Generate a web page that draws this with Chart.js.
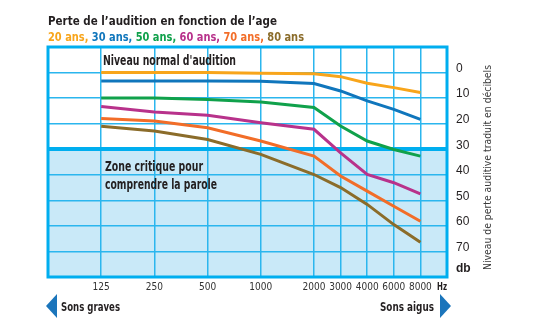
<!DOCTYPE html>
<html lang="fr">
<head>
<meta charset="utf-8">
<title>Perte de l'audition en fonction de l'age</title>
<script src="https://cdn.jsdelivr.net/npm/chart.js@4.4.1/dist/chart.umd.min.js"></script>
<style>
  html, body { margin: 0; padding: 0; background: #fff; }
  #wrap { width: 540px; height: 323px; }
</style>
</head>
<body>
<div id="wrap"><canvas id="audition" width="540" height="323"></canvas></div>
<script>
// fréquences mesurées (Hz)
const frequencies = ['125', '250', '500', '1000', '2000', '3000', '4000', '6000', '8000'];
// graduations de l'axe : demi-pas entre les octaves, vides là où rien n'est écrit
const axisSlots = ['', '', '125', '', '250', '', '500', '', '1000', '', '2000', '3000', '4000', '6000', '8000', ''];
const dbTicks = [0, 10, 20, 30, 40, 50, 60, 70];

const ages = ['20 ans', '30 ans', '50 ans', '60 ans', '70 ans', '80 ans'];
const loss20 = [0, 0, 0, 0.3, 0.5, 1.6, 4.2, 5.9, 7.8];
const loss30 = [3.3, 3.3, 3.3, 3.4, 4.3, 7.2, 11.1, 14.4, 18.3];
const loss50 = [10, 10, 10.5, 11.5, 13.7, 20.9, 26.8, 30.1, 32.7];
const loss60 = [13.3, 15.4, 16.7, 19.6, 22.2, 31.4, 39.9, 43.1, 47.5];
const loss70 = [18, 19, 21.6, 26.8, 32.7, 40.5, 46.4, 52.3, 58.2];
const loss80 = [21, 22.9, 26.2, 32, 39.9, 45, 51.6, 59.5, 66.4];

const colors = ['#f8a51b', '#1076bc', '#10a14b', '#b8328b', '#f26d28', '#8b6c2a'];
const CYAN = '#00aeef';
const GRID = '#2bb6ee';
const ZONE = '#c9e9f8';
const INK = '#231f20';
const NARROW = '"Liberation Sans Narrow", "DejaVu Sans Condensed", "Liberation Sans", sans-serif';

const series = [loss20, loss30, loss50, loss60, loss70, loss80];

// texte compressé horizontalement pour tenir dans une largeur donnée
function fitText(ctx, text, x, y, font, color, width) {
  ctx.save();
  ctx.font = font;
  ctx.fillStyle = color;
  ctx.textBaseline = 'alphabetic';
  ctx.textAlign = 'left';
  const k = width ? width / ctx.measureText(text).width : 1;
  ctx.translate(x, y);
  ctx.scale(k, 1);
  ctx.fillText(text, 0, 0);
  ctx.restore();
}

const zonePlugin = {
  id: 'zone',
  beforeDraw(chart) {
    const { ctx, chartArea: a, scales: { y } } = chart;
    const top = y.getPixelForValue(30);
    ctx.save();
    ctx.fillStyle = ZONE;
    ctx.fillRect(a.left, top, a.right - a.left, a.bottom - top);
    ctx.restore();
  },
  beforeDatasetsDraw(chart) {
    const { ctx, chartArea: a } = chart;
    ctx.save();
    ctx.strokeStyle = CYAN;
    ctx.lineWidth = 3;
    ctx.strokeRect(a.left, a.top, a.right - a.left, a.bottom - a.top);
    ctx.restore();
  },
  afterDraw(chart) {
    const ctx = chart.ctx;
    const bold = (s) => 'bold ' + s + 'px ' + NARROW;

    fitText(ctx, 'Perte de l\u2019audition en fonction de l\u2019age', 48, 24.5, bold(13), INK, 229);

    // légende des âges, en couleur
    ctx.save();
    ctx.font = bold(13);
    const parts = ages.map((a, i) => a + (i < ages.length - 1 ? ', ' : ''));
    const total = ctx.measureText(parts.join('')).width;
    const k = 256 / total;
    let x = 48;
    parts.forEach((p, i) => {
      ctx.save();
      ctx.fillStyle = colors[i];
      ctx.translate(x, 40.5);
      ctx.scale(k, 1);
      ctx.fillText(p, 0, 0);
      ctx.restore();
      x += ctx.measureText(p).width * k;
    });
    ctx.restore();

    fitText(ctx, 'Niveau normal d\'audition', 103, 65, bold(14), INK, 133);
    fitText(ctx, 'Zone critique pour', 105, 171, bold(14), INK, 98);
    fitText(ctx, 'comprendre la parole', 105, 189, bold(14), INK, 112);

    fitText(ctx, 'db', 456, 272, 'bold 12px "Liberation Sans", sans-serif', INK, 0);
    fitText(ctx, 'Hz', 437, 290, bold(11), INK, 10);

    // titre de l'axe vertical, lu de bas en haut
    ctx.save();
    ctx.font = '11px ' + NARROW;
    ctx.fillStyle = '#3a3a3a';
    ctx.translate(488, 167.5);
    ctx.rotate(-Math.PI / 2);
    const t = 'Niveau de perte auditive traduit en d\u00e9cibels';
    ctx.scale(205 / ctx.measureText(t).width, 1);
    ctx.textAlign = 'center';
    ctx.textBaseline = 'middle';
    ctx.fillText(t, 0, 0);
    ctx.restore();

    // flèches graves / aigus
    ctx.save();
    ctx.fillStyle = '#1b75bb';
    ctx.beginPath();
    ctx.moveTo(46, 306); ctx.lineTo(57, 294); ctx.lineTo(57, 318); ctx.closePath();
    ctx.fill();
    ctx.beginPath();
    ctx.moveTo(451, 306); ctx.lineTo(440, 294); ctx.lineTo(440, 318); ctx.closePath();
    ctx.fill();
    ctx.restore();
    fitText(ctx, 'Sons graves', 61, 311, bold(12), INK, 59);
    fitText(ctx, 'Sons aigus', 380, 311, bold(12), INK, 54);
  }
};

new Chart(document.getElementById('audition'), {
  type: 'line',
  data: {
    datasets: series.map((vals, i) => ({
      label: ages[i],
      data: frequencies.map((f, j) => ({ x: f, y: vals[j] })),
      borderColor: colors[i],
      borderWidth: 3,
      pointRadius: 0,
      tension: 0,
      fill: false
    }))
  },
  options: {
    responsive: false,
    animation: false,
    events: [],
    layout: { padding: { left: 48, top: 47, right: 0, bottom: 0 } },
    plugins: { legend: { display: false }, tooltip: { enabled: false } },
    scales: {
      x: {
        type: 'category',
        labels: axisSlots,
        offset: false,
        afterFit: (s) => { s.height = 46; },
        border: { display: false },
        grid: {
          drawTicks: false,
          lineWidth: 1.5,
          color: (c) => (c.tick && c.tick.label ? GRID : 'rgba(0,0,0,0)')
        },
        ticks: {
          autoSkip: false,
          maxRotation: 0,
          padding: 4,
          color: '#333',
          font: { family: NARROW, size: 10 }
        }
      },
      y: {
        type: 'linear',
        position: 'right',
        reverse: true,
        min: -10,
        max: 80,
        afterFit: (s) => { s.width = 93; },
        afterBuildTicks: (s) => {
          s.ticks = [-10].concat(dbTicks, [80]).map((v) => ({ value: v }));
        },
        border: { display: false },
        grid: {
          drawTicks: false,
          lineWidth: (c) => (c.tick && c.tick.value === 30 ? 4 : 1.5),
          color: (c) => (c.tick && dbTicks.includes(c.tick.value) ? (c.tick.value === 30 ? CYAN : GRID) : 'rgba(0,0,0,0)')
        },
        ticks: {
          padding: 9,
          labelOffset: -4,
          color: INK,
          font: { family: '"Liberation Sans", sans-serif', size: 12 },
          callback: (v) => (dbTicks.includes(v) ? String(v) : '')
        }
      }
    }
  },
  plugins: [zonePlugin]
});
</script>
</body>
</html>
